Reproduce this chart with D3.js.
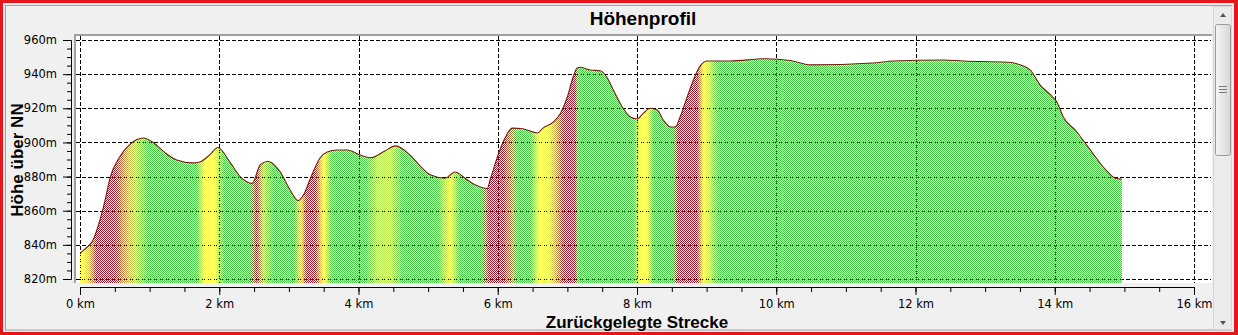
<!DOCTYPE html>
<html>
<head>
<meta charset="utf-8">
<script src="https://cdn.jsdelivr.net/npm/d3@7"></script>
<style>
  html, body { margin: 0; padding: 0; background: #f0f0f0; }
  svg { display: block; }
</style>
</head>
<body>
<svg id="chart" width="1238" height="335"></svg>
<script>
// ---------- data ----------
const chartTitle = "Höhenprofil";
const xAxisTitle = "Zurückgelegte Strecke";
const yAxisTitle = "Höhe über NN";

const distanceKm = [
  0.00, 0.07, 0.19, 0.29, 0.36, 0.43, 0.57, 0.72, 0.91, 1.05,
  1.22, 1.39, 1.62, 1.72, 1.87, 1.98, 2.16, 2.30, 2.40, 2.47,
  2.59, 2.70, 2.87, 3.02, 3.13, 3.22, 3.30, 3.45, 3.55, 3.69,
  3.84, 4.02, 4.17, 4.38, 4.53, 4.74, 4.89, 5.03, 5.24, 5.39,
  5.53, 5.68, 5.85, 5.89, 6.03, 6.11, 6.21, 6.36, 6.57, 6.65,
  6.80, 6.90, 7.00, 7.08, 7.14, 7.18, 7.33, 7.47, 7.57, 7.66,
  7.80, 7.90, 8.00, 8.09, 8.19, 8.29, 8.38, 8.48, 8.55, 8.62,
  8.72, 8.81, 8.91, 9.01, 9.34, 9.84, 10.20, 10.49, 11.39, 11.68,
  12.40, 12.69, 13.32, 13.51, 13.65, 13.79, 13.94, 14.04, 14.12, 14.30,
  14.51, 14.73, 14.87, 14.96
];
const elevationM = [
  835.0, 837.5, 843.0, 855.0, 866.0, 879.0, 891.5, 899.0, 902.6, 900.0,
  894.0, 889.7, 888.0, 888.5, 893.0, 897.0, 888.0, 880.0, 876.8, 876.0,
  887.0, 889.0, 883.0, 872.0, 866.0, 870.0, 878.0, 891.0, 894.4, 895.6,
  895.6, 892.6, 891.0, 895.0, 898.0, 892.6, 886.0, 881.0, 879.0, 882.7,
  879.0, 875.0, 873.0, 878.0, 895.6, 903.0, 908.4, 908.0, 905.5, 908.4,
  912.0, 917.0, 926.6, 938.0, 943.6, 944.0, 942.4, 942.0, 938.0, 930.7,
  920.0, 915.0, 913.7, 917.0, 920.0, 919.0, 913.0, 909.0, 909.0, 915.0,
  926.6, 936.6, 945.0, 947.7, 947.7, 949.0, 948.0, 945.4, 946.5, 947.7,
  948.3, 947.7, 947.0, 945.4, 942.4, 933.6, 927.8, 923.0, 915.0, 907.0,
  895.6, 884.0, 879.0, 878.5
];
const yTickValues = [820, 840, 860, 880, 900, 920, 940, 960];
const yMinorTickValues = d3.range(820, 960.1, 5);
const xTickValues = [0, 2, 4, 6, 8, 10, 12, 14, 16];
const xMinorTickValues = d3.range(0, 16.01, 0.5);
const gradeStops = [1.0, 2.6, 4.0, 6.0];      // percent grade
const gradeColors = ["#3ccc3c", "#ffff50", "#ffff50", "#a01428"];

// ---------- layout ----------
const W = 1238, H = 335;
const plotL = 76, plotR = 1212, plotT = 36, plotB = 283;

const svg = d3.select("#chart");

// frame
svg.append("rect").attr("x", 0).attr("y", 0).attr("width", W).attr("height", H).attr("fill", "#e4151b");
svg.append("rect").attr("x", 3).attr("y", 3).attr("width", W - 7).attr("height", H - 6).attr("fill", "#f0f0f0");
svg.append("rect").attr("x", 5.5).attr("y", 5.5).attr("width", 1226).attr("height", 324.5)
   .attr("fill", "none").attr("stroke", "#a0a0a0");

// plot background with sunken top/left border
svg.append("rect").attr("x", plotL).attr("y", plotT).attr("width", plotR - plotL).attr("height", plotB - plotT).attr("fill", "#ffffff");
svg.append("rect").attr("x", plotL - 2).attr("y", plotT - 2).attr("width", plotR - plotL + 2).attr("height", 2).attr("fill", "#a0a0a0");
svg.append("rect").attr("x", plotL - 2).attr("y", plotT - 2).attr("width", 2).attr("height", plotB - plotT + 2).attr("fill", "#a0a0a0");

// scales
const x = d3.scaleLinear().domain([0, 16]).range([80, 1194]);
const y = d3.scaleLinear().domain([820, 960]).range([279, 40]);

// grid (under the fill, shows through the checker pattern)
const grid = svg.append("g").attr("stroke", "#000").attr("stroke-width", 1).attr("stroke-dasharray", "4,2").attr("shape-rendering", "crispEdges");
grid.selectAll("line.h").data(yTickValues).join("line")
  .attr("x1", plotL).attr("x2", plotR - 1)
  .attr("y1", d => Math.round(y(d)) + 0.5).attr("y2", d => Math.round(y(d)) + 0.5);
grid.selectAll("line.v").data(xTickValues).join("line")
  .attr("y1", plotT).attr("y2", plotB)
  .attr("x1", d => Math.round(x(d)) + 0.5).attr("x2", d => Math.round(x(d)) + 0.5);

// profile data
const pts = distanceKm.map((d, i) => ({ d, e: elevationM[i] }));
const gradeColor = d3.scaleLinear().domain(gradeStops).range(gradeColors).clamp(true);

const defs = svg.append("defs");
const grad = defs.append("linearGradient").attr("id", "slopeGrad")
  .attr("gradientUnits", "userSpaceOnUse")
  .attr("x1", x(pts[0].d)).attr("x2", x(pts[pts.length - 1].d))
  .attr("y1", 0).attr("y2", 0);
const d0 = pts[0].d, dN = pts[pts.length - 1].d;
const stops = [];
for (let i = 0; i < pts.length - 1; i++) {
  const a = pts[i], b = pts[i + 1];
  const g = (b.e - a.e) / ((b.d - a.d) * 1000) * 100;
  stops.push({ off: ((a.d + b.d) / 2 - d0) / (dN - d0), c: gradeColor(g) });
}
stops.unshift({ off: 0, c: stops[0].c });
stops.push({ off: 1, c: stops[stops.length - 1].c });
grad.selectAll("stop").data(stops).join("stop")
  .attr("offset", s => s.off).attr("stop-color", s => s.c);

// checker mask
const pat = defs.append("pattern").attr("id", "checker")
  .attr("patternUnits", "userSpaceOnUse").attr("width", 2).attr("height", 2);
pat.append("rect").attr("x", 0).attr("y", 0).attr("width", 1).attr("height", 1).attr("fill", "#fff");
pat.append("rect").attr("x", 1).attr("y", 1).attr("width", 1).attr("height", 1).attr("fill", "#fff");
const mask = defs.append("mask").attr("id", "checkMask").attr("maskUnits", "userSpaceOnUse")
  .attr("x", 0).attr("y", 0).attr("width", W).attr("height", H);
mask.append("rect").attr("x", 0).attr("y", 0).attr("width", W).attr("height", H).attr("fill", "url(#checker)");

const area = d3.area().x(p => x(p.d)).y0(plotB).y1(p => y(p.e)).curve(d3.curveMonotoneX);
const line = d3.line().x(p => x(p.d)).y(p => y(p.e)).curve(d3.curveMonotoneX);

svg.append("path").datum(pts).attr("d", area)
  .attr("fill", "url(#slopeGrad)").attr("mask", "url(#checkMask)").attr("shape-rendering", "crispEdges");
svg.append("path").datum(pts).attr("d", line)
  .attr("fill", "none").attr("stroke", "#7a1810").attr("stroke-width", 1.1);

// axes
const fontTick = "'DejaVu Sans', Verdana, sans-serif";
const yMinor = svg.append("g").attr("transform", "translate(71,0)")
  .call(d3.axisLeft(y).tickValues(yMinorTickValues).tickSize(4).tickSizeOuter(0).tickFormat(""));
const yAx = svg.append("g").attr("transform", "translate(71,0)")
  .call(d3.axisLeft(y).tickValues(yTickValues).tickSize(8).tickSizeOuter(0).tickPadding(6).tickFormat(d => d + "m"));
const xMinor = svg.append("g").attr("transform", "translate(0,287)")
  .call(d3.axisBottom(x).tickValues(xMinorTickValues).tickSize(5).tickSizeOuter(0).tickFormat(""));
const xAx = svg.append("g").attr("transform", "translate(0,287)")
  .call(d3.axisBottom(x).tickValues(xTickValues).tickSize(8).tickSizeOuter(0).tickPadding(5).tickFormat(d => d + " km"));
[yMinor, yAx, xMinor, xAx].forEach(g => {
  g.selectAll("text").attr("font-family", fontTick).attr("font-size", 11.5).attr("fill", "#000");
  g.selectAll("line,path").attr("stroke", "#000");
});

// titles
const fontTitle = "'Liberation Sans', Arial, sans-serif";
svg.append("text").attr("x", 643).attr("y", 25).attr("text-anchor", "middle")
  .attr("font-family", fontTitle).attr("font-weight", "bold").attr("font-size", 19).text(chartTitle);
svg.append("text").attr("x", 637).attr("y", 328).attr("text-anchor", "middle")
  .attr("font-family", fontTitle).attr("font-weight", "bold").attr("font-size", 17).text(xAxisTitle);
svg.append("text").attr("transform", "translate(23,160) rotate(-90)").attr("text-anchor", "middle")
  .attr("font-family", fontTitle).attr("font-weight", "bold").attr("font-size", 17).text(yAxisTitle);

// scrollbar
const sb = svg.append("g");
sb.append("rect").attr("x", 1213.5).attr("y", 6.5).attr("width", 18).attr("height", 323).attr("fill", "#ebebeb").attr("stroke", "#d6d6d6");
const tg = defs.append("linearGradient").attr("id", "thumbGrad").attr("x1", 0).attr("x2", 1).attr("y1", 0).attr("y2", 0);
tg.append("stop").attr("offset", 0).attr("stop-color", "#f6f6f6");
tg.append("stop").attr("offset", 1).attr("stop-color", "#d8d8d8");
sb.append("rect").attr("x", 1215.5).attr("y", 24.5).attr("width", 15).attr("height", 131).attr("rx", 2)
  .attr("fill", "url(#thumbGrad)").attr("stroke", "#9a9a9a");
[86, 89, 92].forEach(yy => {
  sb.append("line").attr("x1", 1219).attr("x2", 1227).attr("y1", yy + 0.5).attr("y2", yy + 0.5).attr("stroke", "#7a7a7a");
});
sb.append("path").attr("d", "M1220,17 L1226,17 L1223,13 Z").attr("fill", "#555");
sb.append("path").attr("d", "M1220,321 L1226,321 L1223,325 Z").attr("fill", "#555");
</script>
</body>
</html>
